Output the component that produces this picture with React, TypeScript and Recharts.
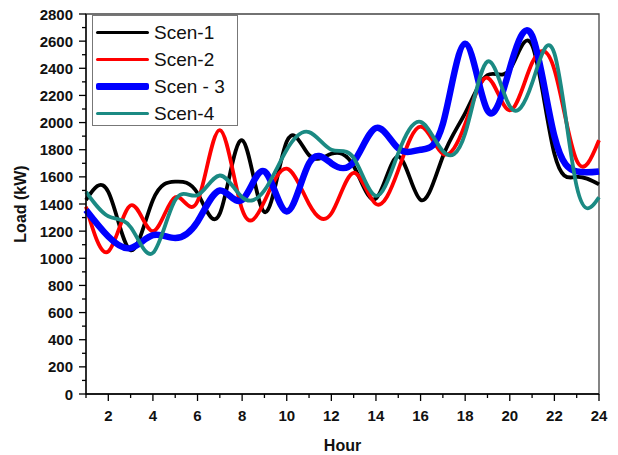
import React from 'react';
import { LineChart, Line, XAxis, YAxis, ReferenceArea } from 'recharts';

// hourly load for each scenario (kW)
const hours = [1, 2, 3, 4, 5, 6, 7, 8, 9, 10, 11, 12, 13, 14, 15, 16, 17, 18, 19, 20, 21, 22, 23, 24];
const scen1 = [1430, 1490, 1060, 1430, 1565, 1480, 1330, 1870, 1340, 1860, 1760, 1770, 1680, 1440, 1750, 1430, 1750, 2070, 2350, 2390, 2570, 1770, 1600, 1545];
const scen2 = [1380, 1050, 1390, 1200, 1450, 1420, 1945, 1360, 1420, 1660, 1400, 1330, 1630, 1400, 1650, 1970, 1770, 1990, 2330, 2090, 2440, 2390, 1720, 1870];
const scen3 = [1356, 1160, 1075, 1170, 1150, 1270, 1500, 1430, 1640, 1345, 1700, 1700, 1710, 1960, 1810, 1800, 1990, 2580, 2090, 2400, 2640, 1900, 1640, 1640];
const scen4 = [1490, 1310, 1230, 1040, 1430, 1465, 1610, 1450, 1500, 1800, 1930, 1800, 1740, 1460, 1775, 2005, 1790, 1920, 2450, 2120, 2290, 2510, 1530, 1450];

const xLabels = [2, 4, 6, 8, 10, 12, 14, 16, 18, 20, 22, 24];
const yLabels = [0, 200, 400, 600, 800, 1000, 1200, 1400, 1600, 1800, 2000, 2200, 2400, 2600, 2800];
const yTicks = yLabels.flatMap((v, i) => (i < yLabels.length - 1 ? [v, v + 100] : [v]));

const series = [
    { key: 's1', name: 'Scen-1', color: '#000000', width: 3.8 },
    { key: 's2', name: 'Scen-2', color: '#ff0000', width: 3.8 },
    { key: 's3', name: 'Scen - 3', color: '#0000ff', width: 6.5 },
    { key: 's4', name: 'Scen-4', color: '#1b8a83', width: 3.8 },
];

const data = hours.map((h, i) => ({ hour: h, s1: scen1[i], s2: scen2[i], s3: scen3[i], s4: scen4[i] }));

const FONT = '"Liberation Sans", Arial, sans-serif';

const XTick = (props: any) => {
    const { x, y, payload } = props;
    const major = xLabels.includes(payload.value);
    return (
        <g>
            <line x1={x} y1={y} x2={x} y2={y + (major ? 7 : 4)} stroke="#000" strokeWidth={1.3} />
            {major && (
                <text x={x} y={y + 21} textAnchor="middle" dominantBaseline="central"
                    fontFamily={FONT} fontWeight="bold" fontSize={15} fill="#111">
                    {payload.value}
                </text>
            )}
        </g>
    );
};

const YTick = (props: any) => {
    const { x, y, payload } = props;
    const major = yLabels.includes(payload.value);
    return (
        <g>
            <line x1={x} y1={y} x2={x - (major ? 7 : 4)} y2={y} stroke="#000" strokeWidth={1.3} />
            {major && (
                <text x={x - 13} y={y} textAnchor="end" dominantBaseline="central"
                    fontFamily={FONT} fontWeight="bold" fontSize={15} fill="#111">
                    {payload.value}
                </text>
            )}
        </g>
    );
};

export default function App() {
    return (
        <div style={{ position: 'absolute', left: 0, top: 0, width: 618, height: 455, background: '#fff' }}>
            <LineChart width={618} height={455} data={data} margin={{ top: 14, right: 19, bottom: 0, left: 0 }}>
                <XAxis
                    dataKey="hour"
                    type="number"
                    domain={[1, 24]}
                    ticks={hours}
                    interval={0}
                    height={61}
                    tickSize={0}
                    tickMargin={0}
                    tick={<XTick />}
                    axisLine={{ stroke: '#000', strokeWidth: 1.3 }}
                    label={({ viewBox }: any) => (
                        <text x={viewBox.x + viewBox.width / 2} y={viewBox.y + 51} textAnchor="middle"
                            dominantBaseline="central" fontFamily={FONT} fontWeight="bold" fontSize={16} fill="#111">
                            Hour
                        </text>
                    )}
                />
                <YAxis
                    type="number"
                    domain={[0, 2800]}
                    ticks={yTicks}
                    interval={0}
                    width={86}
                    tickSize={0}
                    tickMargin={0}
                    tick={<YTick />}
                    axisLine={{ stroke: '#000', strokeWidth: 1.3 }}
                    label={({ viewBox }: any) => {
                        const cx = viewBox.x + 20;
                        const cy = viewBox.y + viewBox.height / 2;
                        return (
                            <text x={cx} y={cy} textAnchor="middle" dominantBaseline="central"
                                transform={`rotate(-90 ${cx} ${cy})`}
                                fontFamily={FONT} fontWeight="bold" fontSize={16} fill="#111">
                                Load (kW)
                            </text>
                        );
                    }}
                />
                <ReferenceArea x1={1} x2={24} y1={0} y2={2800} fill="none" stroke="#444" strokeWidth={1.3} ifOverflow="visible" />
                {series.map(s => (
                    <Line
                        key={s.key}
                        type="natural"
                        dataKey={s.key}
                        name={s.name}
                        stroke={s.color}
                        strokeWidth={s.width}
                        dot={false}
                        activeDot={false}
                        isAnimationActive={false}
                    />
                ))}
            </LineChart>

            {/* legend box, top-left inside the plot */}
            <div style={{
                position: 'absolute', left: 92, top: 15, width: 146, height: 111,
                border: '1.3px solid #777', background: '#fff', boxSizing: 'border-box', paddingTop: 3,
            }}>
                {series.map(s => (
                    <div key={s.key} style={{ display: 'flex', alignItems: 'center', height: 27 }}>
                        <div style={{ marginLeft: 3, width: 53, height: s.width, background: s.color, borderRadius: 2 }} />
                        <span style={{ marginLeft: 5, fontFamily: FONT, fontSize: 19, color: '#111', whiteSpace: 'nowrap' }}>{s.name}</span>
                    </div>
                ))}
            </div>
        </div>
    );
}
